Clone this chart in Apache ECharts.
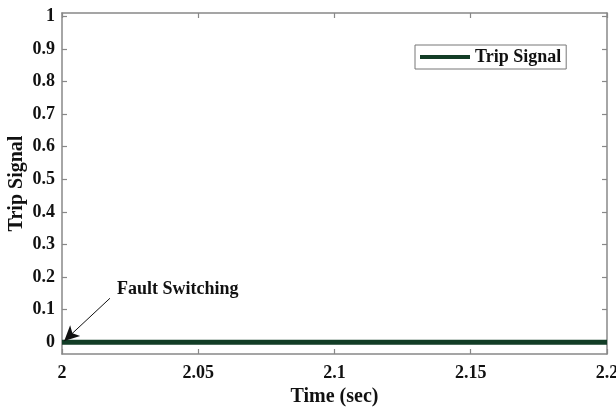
<!DOCTYPE html>
<html><head><meta charset="utf-8">
<script src="https://cdn.jsdelivr.net/npm/echarts@6/dist/echarts.min.js"></script>
<style>html,body{margin:0;padding:0;background:#fff}#c{width:616px;height:410px}</style>
</head><body><div id="c"></div>
<script>
const timeValues = [2.0, 2.05, 2.1, 2.15, 2.2];
const tripValues = [0, 0, 0, 0, 0];
const yTicks = [0, 0.1, 0.2, 0.3, 0.4, 0.5, 0.6, 0.7, 0.8, 0.9, 1];
const xTicks = [2, 2.05, 2.1, 2.15, 2.2];
const seriesName = 'Trip Signal';
const annotationText = 'Fault Switching';
const arrowTail = [2.0176, 0.135];
const arrowHead = [2.0008, 0.004];
const textAnchor = [2.0202, 0.163];

const font = 'Liberation Serif';
const fmtX = v => String(+v.toFixed(2));
const fmtY = v => String(+v.toFixed(1));
const chart = echarts.init(document.getElementById('c'));
const axisLine = {show: true, onZero: false, lineStyle: {color: '#888', width: 1.5}};
const tickStyle = {color: '#888', width: 1.2};
chart.setOption({
  animation: false,
  backgroundColor: '#fff',
  grid: {left: 62, right: 9, top: 13, bottom: 56, outerBoundsMode: 'none', containLabel: false},
  legend: {
    left: 415, top: 45, padding: [3, 5, 3, 5],
    borderColor: '#777', borderWidth: 1,
    itemWidth: 50, itemHeight: 4, itemGap: 5,
    icon: 'rect',
    textStyle: {fontFamily: font, fontWeight: 'bold', fontSize: 18, color: '#111', padding: [2, 0, 0, 0]},
    data: [seriesName]
  },
  xAxis: [{
    type: 'value', min: 2, max: 2.2,
    name: 'Time (sec)', nameLocation: 'middle', nameGap: 31,
    nameTextStyle: {fontFamily: font, fontWeight: 'bold', fontSize: 20, color: '#111'},
    axisLine: axisLine,
    axisTick: {show: true, inside: true, length: 5, customValues: xTicks, lineStyle: tickStyle},
    axisLabel: {customValues: xTicks, formatter: fmtX, fontFamily: font, fontWeight: 'bold', fontSize: 18, color: '#111', margin: 10},
    splitLine: {show: false}
  }, {
    type: 'value', min: 2, max: 2.2, position: 'top',
    axisLine: axisLine,
    axisTick: {show: true, inside: true, length: 5, customValues: xTicks, lineStyle: tickStyle},
    axisLabel: {show: false}, splitLine: {show: false}
  }],
  yAxis: [{
    type: 'value', min: -0.036, max: 1.01,
    name: 'Trip Signal', nameLocation: 'middle', nameGap: 35, nameMoveOverlap: false,
    nameTextStyle: {fontFamily: font, fontWeight: 'bold', fontSize: 20, color: '#111'},
    axisLine: axisLine,
    axisTick: {show: true, inside: true, length: 5, customValues: yTicks, lineStyle: tickStyle},
    axisLabel: {customValues: yTicks, formatter: fmtY, fontFamily: font, fontWeight: 'bold', fontSize: 18, color: '#111', margin: 7},
    splitLine: {show: false}
  }, {
    type: 'value', min: -0.036, max: 1.01, position: 'right',
    axisLine: axisLine,
    axisTick: {show: true, inside: true, length: 5, customValues: yTicks, lineStyle: tickStyle},
    axisLabel: {show: false}, splitLine: {show: false}
  }],
  series: [{
    name: seriesName, type: 'line', showSymbol: false,
    data: timeValues.map((t, i) => [t, tripValues[i]]),
    itemStyle: {color: '#123d26'},
    lineStyle: {color: '#123d26', width: 5},
    markLine: {
      silent: true, animation: false,
      symbol: ['none', 'arrow'], symbolSize: [11, 15],
      lineStyle: {color: '#111', width: 1, type: 'solid'},
      label: {show: false},
      data: [[{coord: arrowTail}, {coord: arrowHead}]]
    },
    markPoint: {
      silent: true, symbol: 'circle', symbolSize: 0,
      label: {show: true, position: 'right', distance: 0, formatter: annotationText,
        fontFamily: font, fontWeight: 'bold', fontSize: 18, color: '#111'},
      data: [{coord: textAnchor}]
    }
  }]
});
</script></body></html>
